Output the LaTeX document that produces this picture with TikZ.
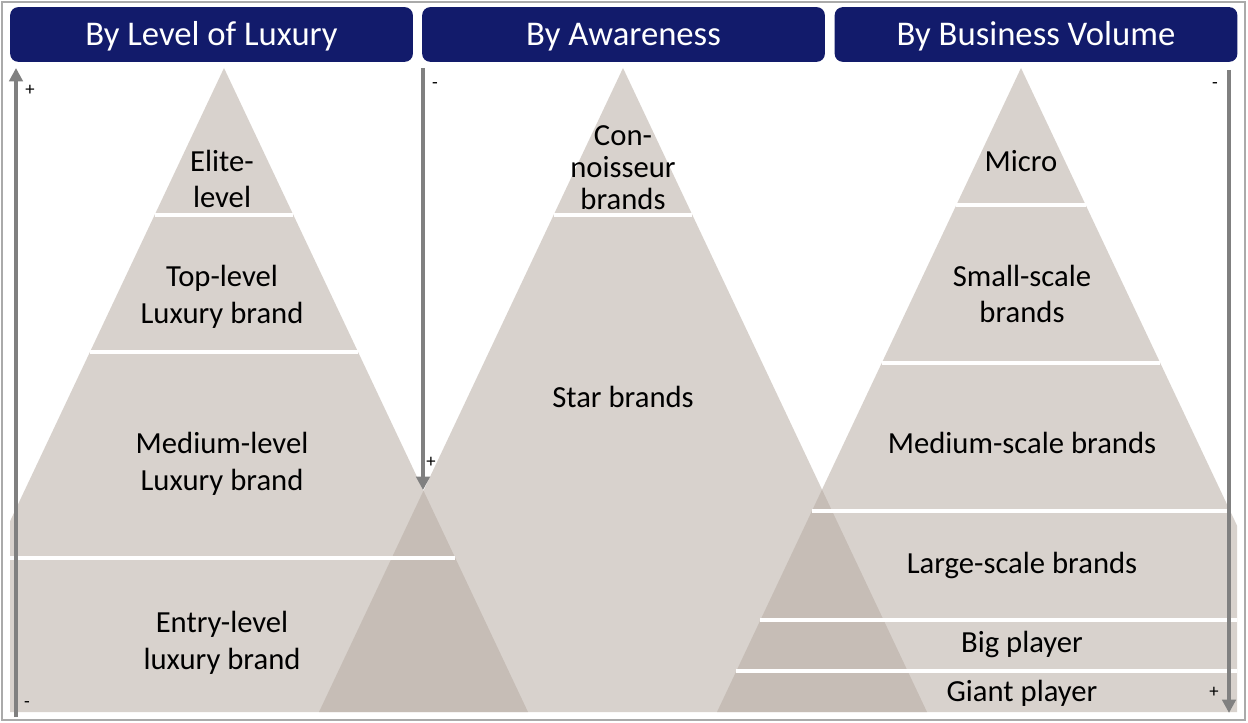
\documentclass[tikz,border=0pt]{standalone}
\usepackage{fontspec}
\setmainfont{Carlito}
\usetikzlibrary{arrows.meta}
\definecolor{navy}{RGB}{18,27,107}
\definecolor{pyr}{RGB}{183,171,162}
\definecolor{axisgray}{RGB}{128,128,128}
\definecolor{framegray}{RGB}{170,170,170}
\begin{document}
\begin{tikzpicture}[x=0.75pt,y=-0.75pt,
  header/.style={fill=navy, rounded corners=6pt, text=white, inner sep=0pt,
    minimum width=302pt, minimum height=41pt, text height=20pt, text depth=3.2pt,
    font=\fontsize{26}{30}\selectfont},
  pyramid/.style={fill=pyr, fill opacity=0.53},
  sepline/.style={draw=white, line width=3pt},
  label/.style={align=center, inner sep=0pt, text=black, font=\fontsize{23}{27.5}\selectfont},
  axis/.style={draw=axisgray, line width=3pt, -{Triangle[length=10pt,width=10pt]}},
  sign/.style={inner sep=0pt, font=\fontsize{14}{15}\selectfont}]
\useasboundingbox (0,0) rectangle (1248,723);
\fill[white] (0,0) rectangle (1248,723);
\draw[framegray, line width=1.5pt] (2,2) rectangle (1245,720);
% headers
\node[header] (h1) at (211.5,34.5) {By Level of Luxury};
\node[header] (h2) at (623.5,34.5) {By Awareness};
\node[header] (h3) at (1036,34.5) {By Business Volume};
% pyramids
\begin{scope}
\clip (10,60) rectangle (1237,712);
\fill[pyramid] (224,68) -- (-80,712) -- (528,712) -- cycle;
\fill[pyramid] (623,68) -- (319,712) -- (927,712) -- cycle;
\fill[pyramid] (1021,68) -- (717,712) -- (1325,712) -- cycle;
\foreach \cx/\yy in {224/215, 224/352, 224/558, 623/215, 1021/205, 1021/363, 1021/511, 1021/620, 1021/671}
  \draw[sepline] ({\cx-0.472*(\yy-68)},\yy) -- ({\cx+0.472*(\yy-68)},\yy);
\end{scope}
% labels
\node[label] (l1) at (222,179) {Elite-\\level};
\node[label] (l2) at (222,297) {Top-level\\Luxury brand};
\node[label] (l3) at (222,464) {Medium-level\\Luxury brand};
\node[label] (l4) at (222,643) {Entry-level\\luxury brand};
\node[label, font=\fontsize{23}{24}\selectfont] (m1) at (623,168) {Con-\\noisseur\\brands};
\node[label] (m2) at (623,397) {Star brands};
\node[label] (r1) at (1021,161) {Micro};
\node[label] (r2) at (1022,294) {Small-scale\\brands};
\node[label] (r3) at (1022,443) {Medium-scale brands};
\node[label] (r4) at (1022,565) {Large-scale brands};
\node[label] (r5) at (1022,644) {Big player};
\node[label] (r6) at (1022,693) {Giant player};
% axes
\coordinate (a1s) at (16,717);
\coordinate (a1e) at (16,68);
\coordinate (a2s) at (423,68);
\coordinate (a2e) at (423,490);
\coordinate (a3s) at (1229,70);
\coordinate (a3e) at (1229,713);
\draw[axis] (a1s) -- (a1e);
\draw[axis] (a2s) -- (a2e);
\draw[axis] (a3s) -- (a3e);
\node[sign] (s1) at (30,90) {+};
\node[sign] (s2) at (27,705) {-};
\node[sign] (s3) at (435,86) {-};
\node[sign] (s4) at (431,462) {+};
\node[sign] (s5) at (1215,86) {-};
\node[sign] (s6) at (1214,692) {+};
\end{tikzpicture}
\end{document}
